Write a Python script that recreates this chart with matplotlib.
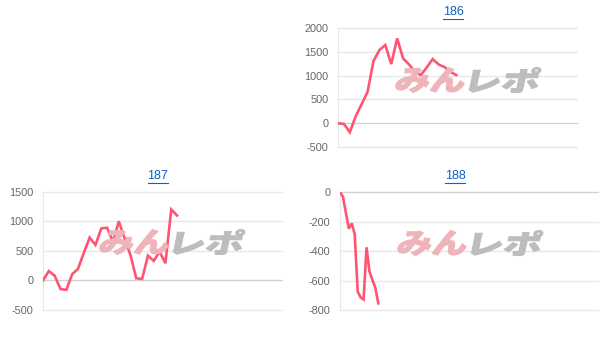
import matplotlib
matplotlib.use('Agg')
import matplotlib.pyplot as plt
from matplotlib.textpath import TextPath
from matplotlib.font_manager import FontProperties
from matplotlib.patches import PathPatch
from matplotlib.transforms import Affine2D, IdentityTransform

plt.rcParams['font.family'] = ['Liberation Sans', 'DejaVu Sans']

# data
names = ['186', '187', '188']
vals186 = [0, -15, -190, 150, 400, 660, 1305, 1537, 1642, 1242, 1782, 1361,
           1235, 1080, 1010, 1172, 1347, 1235, 1179, 1080, 1010]
vals187 = [0, 158, 80, -145, -160, 105, 195, 465, 724, 600, 880, 890, 655,
           1000, 712, 430, 37, 25, 420, 330, 487, 290, 1200, 1098]
vals188 = [0, -30, -140, -247, -211, -286, -676, -714, -728, -374, -540,
           -596, -650, -755]
ticks186 = [-500, 0, 500, 1000, 1500, 2000]
ticks187 = [-500, 0, 500, 1000, 1500]
ticks188 = [-800, -600, -400, -200, 0]

W, H = 605, 337
fig = plt.figure(figsize=(W / 100, H / 100), dpi=100)

LINE = '#ff5573'
GRID = '#e8e8e8'
LABEL = '#666666'
TITLE = '#0b63c5'


def px_axes(left, top, right, bottom):
    return fig.add_axes([left / W, (H - bottom) / H, (right - left) / W, (bottom - top) / H])


def watermark(cx, cy):
    # rough stand-in for the logo that sits behind each chart
    fp = FontProperties(family='Noto Sans CJK JP', weight='black')
    for txt, col, dx in [('みん', '#eeb4b9', -37), ('レポ', '#bdbdbd', 37)]:
        tp = TextPath((0, 0), txt, size=10, prop=fp)
        bb = tp.get_extents()
        sx = 68 / bb.width
        sy = 25 / bb.height
        tr = (Affine2D().translate(-bb.x0 - bb.width / 2, -bb.y0 - bb.height / 2)
              .scale(sx, sy).skew_deg(12, 0).translate(cx + dx, H - cy))
        fig.patches.append(PathPatch(tp, transform=tr + IdentityTransform(),
                                     fc=col, ec=col, lw=0.8, zorder=0))


def chart(box, vals, ticks, xmax, title, tpos, wpos):
    ax = px_axes(*box)
    ax.set_facecolor('none')
    ax.plot(range(len(vals)), vals, color=LINE, lw=1.9, solid_joinstyle='miter', zorder=3)
    ax.set_xlim(0, xmax)
    ax.set_ylim(ticks[0], ticks[-1])
    ax.set_yticks(ticks)
    ax.set_yticklabels([str(t) for t in ticks])
    ax.set_xticks([])
    for t in ticks:
        c = '#d2d2d2' if t == 0 else GRID
        ax.axhline(t, color=c, lw=1, zorder=1, clip_on=False)
    for s in ['top', 'right', 'bottom']:
        ax.spines[s].set_visible(False)
    ax.spines['left'].set_color(GRID)
    ax.tick_params(axis='y', length=0, pad=7, labelsize=7.8, labelcolor=LABEL)
    t = fig.text(tpos[0] / W, 1 - tpos[1] / H, title, color=TITLE, fontsize=9,
                 ha='center', va='center')
    fig.canvas.draw()
    bb = t.get_window_extent()
    fig.add_artist(plt.Line2D([bb.x0 / W, bb.x1 / W], [(bb.y0 - 0.5) / H] * 2,
                              color=TITLE, lw=0.8))
    watermark(*wpos)
    return ax


chart((338, 28, 577, 147), vals186, ticks186, 40.4, names[0], (453, 12), (468, 80))
chart((43, 191.7, 282, 310), vals187, ticks187, 41, names[1], (158, 176), (172, 242))
chart((340, 192.3, 598, 310), vals188, ticks188, 87.5, names[2], (455, 176), (470, 243))

fig.savefig('out.png', dpi=100)
